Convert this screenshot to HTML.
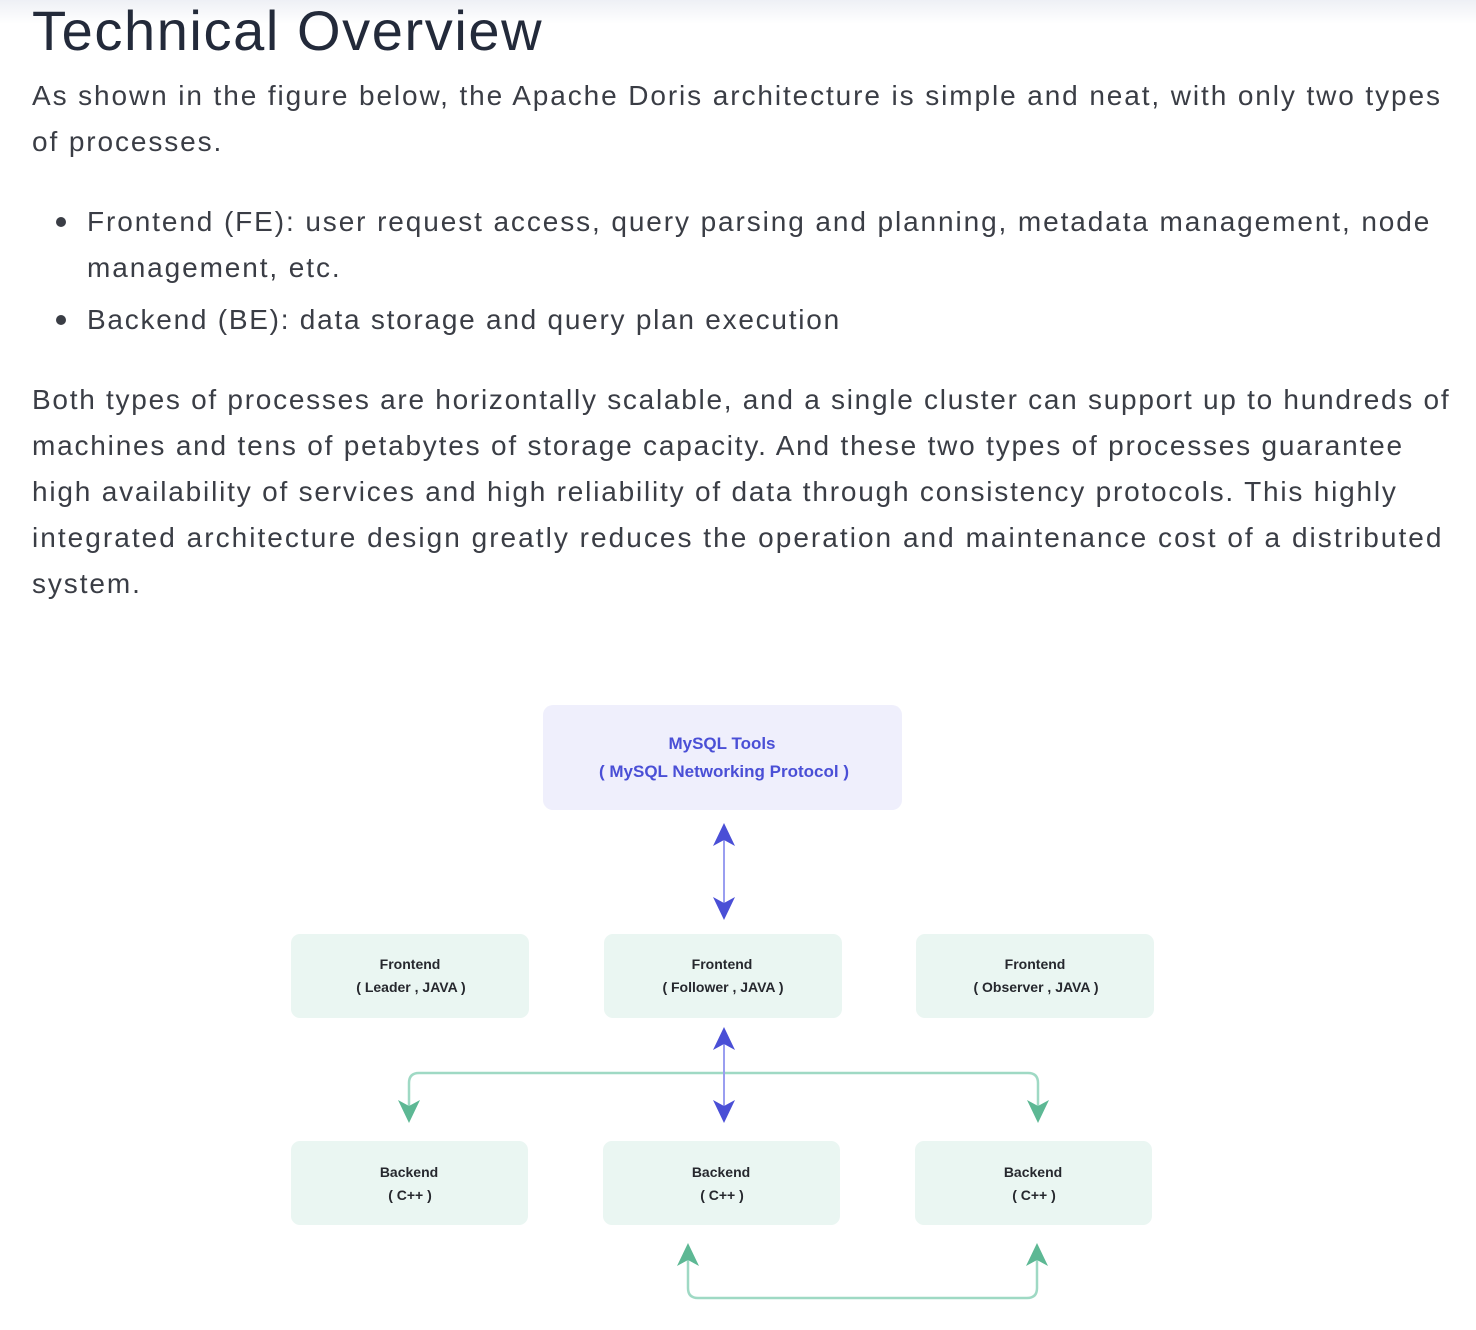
<!DOCTYPE html>
<html><head><meta charset="utf-8"><style>
body{margin:0;width:1476px;height:1330px;background:#fff;position:relative;overflow:hidden;font-family:"Liberation Sans",sans-serif;}
.t{position:absolute;white-space:nowrap;color:#3a3d45;font-size:28px;letter-spacing:1.9px;}
.top{position:absolute;left:0;top:0;width:1476px;height:24px;background:linear-gradient(#eef0f5,#fff);}
h1{position:absolute;left:32px;top:-2px;margin:0;font-weight:normal;font-size:56px;color:#232a3a;white-space:nowrap;letter-spacing:1.6px}
.dot{position:absolute;width:10px;height:10px;border-radius:50%;background:#3a3d45;}
</style></head><body>
<div class="top"></div>
<h1>Technical Overview</h1>
<div class="t" style="left:32px;top:80px">As shown in the figure below, the Apache Doris architecture is simple and neat, with only two types</div>
<div class="t" style="left:32px;top:126px">of processes.</div>
<div class="dot" style="left:56px;top:217px"></div>
<div class="t" style="left:87px;top:206px">Frontend (FE): user request access, query parsing and planning, metadata management, node</div>
<div class="t" style="left:87px;top:252px">management, etc.</div>
<div class="dot" style="left:56px;top:315px"></div>
<div class="t" style="left:87px;top:304px;letter-spacing:1.75px">Backend (BE): data storage and query plan execution</div>
<div class="t" style="left:32px;top:384px;letter-spacing:1.73px">Both types of processes are horizontally scalable, and a single cluster can support up to hundreds of</div>
<div class="t" style="left:32px;top:430px;letter-spacing:1.8px">machines and tens of petabytes of storage capacity. And these two types of processes guarantee</div>
<div class="t" style="left:32px;top:476px;letter-spacing:1.8px">high availability of services and high reliability of data through consistency protocols. This highly</div>
<div class="t" style="left:32px;top:522px;letter-spacing:2.03px">integrated architecture design greatly reduces the operation and maintenance cost of a distributed</div>
<div class="t" style="left:32px;top:568px">system.</div>
<svg width="1476" height="1330" style="position:absolute;left:0;top:0" font-family="Liberation Sans, sans-serif">
<rect x="543" y="705" width="359" height="105" rx="10" fill="#efeffc"/>
<text x="722" y="749" text-anchor="middle" font-size="17" font-weight="bold" fill="#4a4fd6">MySQL Tools</text>
<text x="724" y="777" text-anchor="middle" font-size="17" font-weight="bold" fill="#4a4fd6">( MySQL Networking Protocol )</text>
<g fill="#eaf6f2">
<rect x="291" y="934" width="238" height="84" rx="9"/>
<rect x="604" y="934" width="238" height="84" rx="9"/>
<rect x="916" y="934" width="238" height="84" rx="9"/>
<rect x="291" y="1141" width="237" height="84" rx="9"/>
<rect x="603" y="1141" width="237" height="84" rx="9"/>
<rect x="915" y="1141" width="237" height="84" rx="9"/>
</g>
<g font-size="14" font-weight="bold" fill="#26282e" text-anchor="middle">
<text x="410" y="969">Frontend</text><text x="411" y="992">( Leader , JAVA )</text>
<text x="722" y="969">Frontend</text><text x="723" y="992">( Follower , JAVA )</text>
<text x="1035" y="969">Frontend</text><text x="1036" y="992">( Observer , JAVA )</text>
<text x="409" y="1177">Backend</text><text x="410" y="1200">( C++ )</text>
<text x="721" y="1177">Backend</text><text x="722" y="1200">( C++ )</text>
<text x="1033" y="1177">Backend</text><text x="1034" y="1200">( C++ )</text>
</g>
<g stroke="#9fd9c4" stroke-width="2.5" fill="none">
<path d="M409 1110 V1083 Q409 1073 419 1073 H1028 Q1038 1073 1038 1083 V1110"/>
<path d="M688 1260 V1288 Q688 1298 698 1298 H1027 Q1037 1298 1037 1288 V1260"/>
</g>
<g stroke="#9a9ef0" stroke-width="2">
<line x1="724" y1="835" x2="724" y2="908"/>
<line x1="724" y1="1040" x2="724" y2="1111"/>
</g>
<g fill="#4a4fd6">
<path d="M724 823 L735 846 L724 840 L713 846Z"/>
<path d="M724 920 L735 897 L724 903 L713 897Z"/>
<path d="M724 1027 L735 1050 L724 1044 L713 1050Z"/>
<path d="M724 1123 L735 1100 L724 1106 L713 1100Z"/>
</g>
<g fill="#5db894">
<path d="M409 1123 L420 1100 L409 1106 L398 1100Z"/>
<path d="M1038 1123 L1049 1100 L1038 1106 L1027 1100Z"/>
<path d="M688 1243 L699 1266 L688 1260 L677 1266Z"/>
<path d="M1037 1243 L1048 1266 L1037 1260 L1026 1266Z"/>
</g>
</svg>
</body></html>
